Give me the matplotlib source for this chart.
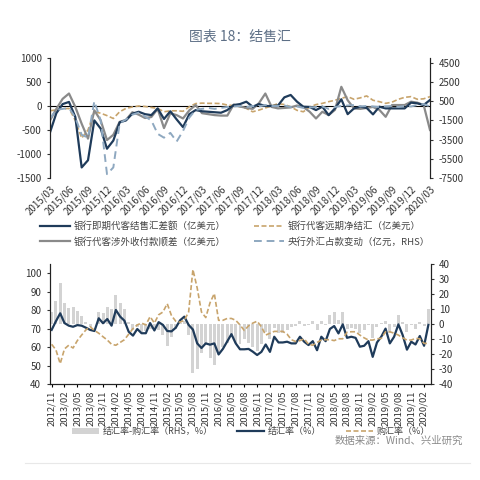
import matplotlib
matplotlib.use("Agg")
import matplotlib.pyplot as plt
from matplotlib.lines import Line2D
import numpy as np

plt.rcParams['font.family'] = ['Noto Sans CJK SC', 'DejaVu Sans']
plt.rcParams['axes.unicode_minus'] = False

# ---- top panel: monthly 2015/03 - 2020/03 ----
top_months = [f"{y}/{m:02d}" for y in range(2015, 2021) for m in range(1, 13)]
top_months = top_months[top_months.index("2015/03"):top_months.index("2020/03") + 1]

spot_net = [-550, -150, 40, 85, -230, -1280, -1130, -300, -470, -890,
            -720, -340, -300, -160, -120, -170, -190, -50, -270, -110, -280, -440,
            -170, -85, -110, -120, -130, -140, -85, 20, 40, 90, -15, 40,
            0, 0, 10, 180, 230, 90, -15, -20, -85, -15, -190, -50,
            140, -170, -50, -15, -40, -175, -15, -50, -50, -50, -50, 70,
            55, 20, 125]
forward_net = [-100, -80, -60, -50, -300, -670, -500, -120, -150, -200,
               -260, -120, -50, -20, 0, -10, -30, -50, -120, -100, -100, -110,
               -15, 50, 60, 55, 55, 50, 20, 10, -15, -50, -120, -85,
               -40, 0, 50, 30, -15, -90, -120, -20, 30, 55, 90, 120,
               160, 195, 140, 170, 210, 120, 90, 55, 80, 140, 180, 195,
               140, 150, 195]
cross_border = [-300, -60, 150, 260, -20, -370, -680, -90, -300, -710,
                -600, -330, -290, -130, -180, -250, -230, -60, -460, -150, -190, -260,
                -90, 20, -150, -170, -190, -200, -200, 30, -10, -40, -60, 60,
                260, -20, -50, -40, -30, 10, -20, -120, -260, -120, -190, -80,
                400, 120, -50, -60, -40, -20, -80, -225, 20, 20, 20, 90,
                70, 20, -500]
fx_reserve = [-1300, -400, -300, -200, -1200, -3000, -3300, 500, -1500, -7100,
              -6400, -1800, -1400, -900, -700, -1100, -1500, -2900, -3300, -2800, -3700, -2600,
              -1200, -400, -300, -200, -300, -200, -100, -50, 0, -100, 0, -50,
              100, 0, 0, 50, -100, -50, -200, -150, -100, -50, -300, -100,
              0, 50, 100, -50, 0, -50, -100, -30, 0, -100, 0, -50,
              100, 200, -50]

# ---- bottom panel: monthly 2012/11 - 2020/03 ----
bot_months = [f"{y}/{m:02d}" for y in range(2012, 2021) for m in range(1, 13)]
bot_months = bot_months[bot_months.index("2012/11"):bot_months.index("2020/03") + 1]

settle_rate = [69.3, 74, 78.3, 73, 71.6, 71, 71.9, 71.6, 70.5, 69.3, 68.7, 75.6,
               72.9, 75.2, 71.6, 80.1, 76.5, 74.3, 68.3, 66.2, 69.8, 67.5, 67.5, 73,
               69, 73.5, 72, 68.7, 68.5, 70.5, 74.5, 76.5, 72, 69.5, 62, 59.5,
               62, 61.3, 62, 56, 59, 63, 67, 62, 58.8, 58.8,
               59, 57.5, 55.7, 57.4, 61.4, 57.4, 65.6, 62.5, 62.5, 62.9, 62, 62,
               65.6, 62.9, 61.1, 63.2, 58.3, 65.6, 63.2, 69.8, 71.4, 67.4, 72.3, 65,
               65.6, 65, 60.2, 60.7, 63.2, 54.7, 62.5, 65.6, 70, 62, 65.6, 72.3,
               66.5, 58.6, 62.9, 61.4, 66, 60.7, 72]
purchase_rate = [61.5, 58.5, 51, 59, 61, 59.5, 63.5, 66.5, 69.3, 71, 69, 67.5,
                 65.6, 63.8, 61.5, 61, 62.5, 64, 67, 70, 72, 73, 72, 76.5,
                 73, 77.5, 79, 83.5, 77, 74, 73.5, 74.5, 79, 102, 92, 79,
                 76, 84, 89, 74.5, 74.5, 75.5, 75.5, 74.5, 72, 69,
                 71.5, 73, 74, 71, 66.5, 67.5, 68.5, 68.5, 68.5, 67, 64, 63,
                 63.5, 64.5, 61.5, 61, 62.5, 63.8, 64, 64, 63.5, 64.5, 64.5, 68,
                 68.3, 68.3, 66.5, 65, 63.8, 63.8, 64.5, 64.7, 68.3, 68.3, 67.5, 66.5,
                 65, 63.8, 63.8, 64.7, 64.5, 62, 62]
rate_gap = np.array(settle_rate) - np.array(purchase_rate)

navy = "#1f3b5a"
tan = "#c8a46c"
gray = "#8a8a8a"
lblue = "#8ea8c0"
barc = "#d3d3d3"
txt = "#333333"

fig = plt.figure(figsize=(4.8, 4.8), dpi=100)
fig.text(0.5, 1 - 37 / 480, "图表 18：结售汇", ha="center", va="center",
         fontsize=10, color="#5d6f86")

# ---------- top ----------
ax1 = fig.add_axes([50 / 480, 1 - 178 / 480, 380 / 480, 120 / 480])
ax1r = ax1.twinx()
x = np.arange(len(top_months))
ax1.axhline(0, color="black", lw=0.8, zorder=1)
l1, = ax1.plot(x, spot_net, color=navy, lw=1.6, zorder=4)
l2, = ax1.plot(x, forward_net, color=tan, lw=1.2, ls=(0, (3, 1.5)), zorder=3)
l3, = ax1.plot(x, cross_border, color=gray, lw=1.6, zorder=3)
l4, = ax1r.plot(x, fx_reserve, color=lblue, lw=1.4, ls=(0, (4, 2.5)))
ax1.set_xlim(0, len(top_months) - 1)
ax1.set_ylim(-1500, 1000)
ax1.set_yticks(range(-1500, 1001, 500))
ax1r.set_ylim(-7500, 5000)
ax1r.set_yticks(range(-7500, 4501, 2000))
ax1.set_xticks(x[::3])
ax1.set_xticklabels(top_months[::3], rotation=45, ha="right", rotation_mode="anchor",
                    fontsize=7, color=txt)
ax1.tick_params(axis="x", length=0, pad=4)
ax1.tick_params(axis="y", labelsize=7, colors=txt, length=2.5)
ax1r.tick_params(axis="y", labelsize=7, colors=txt, length=2.5)
for a in (ax1, ax1r):
    a.spines["top"].set_visible(False)
    a.spines["bottom"].set_visible(False)
    a.spines["left"].set_color("#222222")
    a.spines["right"].set_color("#222222")

fig.legend([l1, l3, l2, l4],
           ["银行即期代客结售汇差额（亿美元）", "银行代客涉外收付款顺差（亿美元）",
            "银行代客远期净结汇（亿美元）", "央行外汇占款变动（亿元，RHS）"],
           loc="upper left", bbox_to_anchor=(31 / 480, 1 - 213 / 480), ncol=2,
           frameon=False, fontsize=6.8, handlelength=3.2, columnspacing=3.0,
           labelspacing=0.6, handletextpad=0.4, labelcolor="#444444")

# ---------- bottom ----------
ax2 = fig.add_axes([49.5 / 480, 1 - 384 / 480, 381 / 480, 120 / 480])
ax2r = ax2.twinx()
xb = np.arange(len(bot_months))
b = ax2r.bar(xb, rate_gap, width=0.7, color=barc)
m1, = ax2.plot(xb, settle_rate, color=navy, lw=1.6)
m2, = ax2.plot(xb, purchase_rate, color=tan, lw=1.2, ls=(0, (3, 1.5)))
ax2.set_zorder(ax2r.get_zorder() + 1)
ax2.patch.set_visible(False)
ax2.set_xlim(-0.5, len(bot_months) - 0.5)
ax2.set_ylim(40, 105)
ax2.set_yticks(range(40, 101, 10))
ax2r.set_ylim(-40, 40)
ax2r.set_yticks(range(-40, 41, 10))
ax2.set_xticks(xb[::3])
ax2.set_xticklabels(bot_months[::3], rotation=90, fontsize=6.8, color=txt)
ax2.tick_params(axis="x", length=2.5, pad=2)
ax2.tick_params(axis="y", labelsize=7, colors=txt, length=2.5)
ax2r.tick_params(axis="y", labelsize=7, colors=txt, length=2.5)
for a in (ax2, ax2r):
    a.spines["top"].set_visible(False)
    for s in ("left", "right", "bottom"):
        a.spines[s].set_color("#222222")

fig.legend([b, m1, m2], ["结汇率-购汇率（RHS，%）", "结汇率（%）", "购汇率（%）"],
           loc="upper left", bbox_to_anchor=(64 / 480, 1 - 419 / 480), ncol=3,
           frameon=False, fontsize=6.5, handlelength=3.0, columnspacing=2.7,
           handletextpad=0.4, labelcolor="#444444")

fig.text(463 / 480, 1 - 441 / 480, "数据来源：Wind、兴业研究", ha="right", va="center",
         fontsize=7.5, color="#8a8a8a")
fig.add_artist(Line2D([25 / 480, 470 / 480], [1 - 463 / 480] * 2, color="#e8e8e8", lw=0.8))

fig.savefig("out.png", dpi=100)
